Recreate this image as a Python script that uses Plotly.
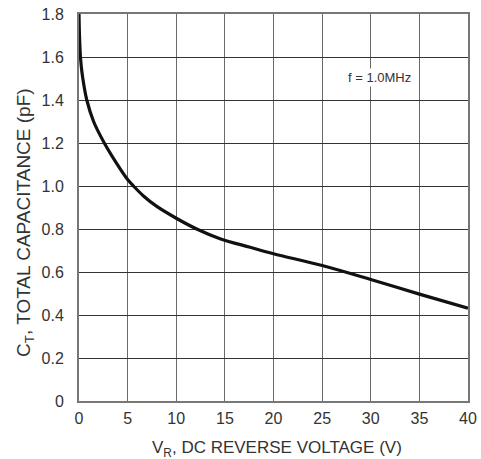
import plotly.graph_objects as go

voltage = [0, 0.05, 0.15, 0.3, 0.5, 0.8, 1.5, 2.6, 3.8, 5.0, 5.6, 6.6, 8, 10, 12.1, 14.5, 17.6, 20, 25, 30, 35, 40]
capacitance = [1.8, 1.7, 1.6, 1.53, 1.47, 1.4, 1.3, 1.2, 1.11, 1.03, 1.0, 0.955, 0.905, 0.85, 0.80, 0.755, 0.715, 0.685, 0.63, 0.565, 0.497, 0.432]

x_ticks = [0, 5, 10, 15, 20, 25, 30, 35, 40]
x_ticktext = ["0", "5", "10", "15", "20", "25", "30", "35", "40"]
y_ticks = [0, 0.2, 0.4, 0.6, 0.8, 1.0, 1.2, 1.4, 1.6, 1.8]
y_ticktext = ["0", "0.2", "0.4", "0.6", "0.8", "1.0", "1.2", "1.4", "1.6", "1.8"]

x_title = "V<sub>R</sub>, DC REVERSE VOLTAGE (V)"
y_title = "C<sub>T</sub>, TOTAL CAPACITANCE (pF)"
note = "f = 1.0MHz"

fig = go.Figure()
fig.add_trace(go.Scatter(
    x=voltage, y=capacitance, mode="lines",
    line=dict(color="#111111", width=3.2, shape="spline", smoothing=1.0),
    showlegend=False, hoverinfo="skip"))

FAM = "Liberation Sans, Arial, sans-serif"
tick_font = dict(family=FAM, size=16, color="#333333")

fig.update_layout(
    width=481, height=459,
    margin=dict(l=79, r=13, t=14, b=58),
    paper_bgcolor="white", plot_bgcolor="white",
    font=tick_font,
    xaxis=dict(
        range=[0, 40], tickmode="array", tickvals=x_ticks, ticktext=x_ticktext,
        showgrid=True, gridcolor="#6a6a6a", gridwidth=1,
        showline=True, linecolor="#777777", linewidth=2, mirror=True,
        ticks="outside", ticklen=2, tickcolor="white", zeroline=False, tickfont=tick_font,
        automargin=False, ticklabeloverflow="allow",
    ),
    yaxis=dict(
        range=[0, 1.8], tickmode="array", tickvals=y_ticks, ticktext=y_ticktext,
        showgrid=True, gridcolor="#333333", gridwidth=1,
        showline=True, linecolor="#777777", linewidth=2, mirror=True,
        ticks="outside", ticklen=10, tickcolor="white", zeroline=False, tickfont=tick_font,
        automargin=False, ticklabeloverflow="allow",
    ),
    annotations=[
        dict(x=30.9, y=1.507, xref="x", yref="y", text=note, showarrow=False,
             font=dict(family=FAM, size=13, color="#333333"),
             bgcolor="white", borderpad=1),
        dict(x=0.509, y=-0.124, xref="paper", yref="paper", text=x_title,
             showarrow=False, xanchor="center", yanchor="middle",
             font=dict(family=FAM, size=17, color="#333333")),
        dict(x=-0.139, y=0.4625, xref="paper", yref="paper", text=y_title,
             showarrow=False, xanchor="center", yanchor="middle", textangle=-90,
             font=dict(family=FAM, size=19, color="#333333")),
    ],
)

fig.write_html("out.html", config={"displayModeBar": False},
               post_script="document.body.style.margin='0';document.body.style.overflow='hidden';")
